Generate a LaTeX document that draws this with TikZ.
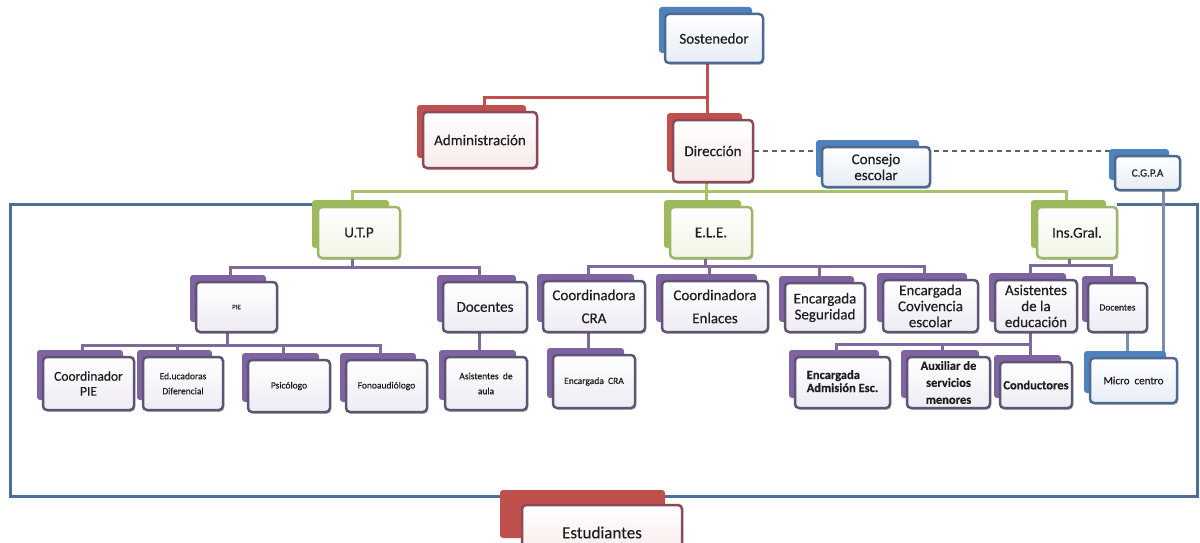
\documentclass[tikz,border=0pt]{standalone}
\usepackage{fontspec}
\setmainfont{Carlito}[FakeBold=0.3]
\usetikzlibrary{shadows,calc}
\pgfdeclarelayer{paper}
\pgfdeclarelayer{bg}
\pgfsetlayers{paper,bg,main}
\definecolor{txt}{HTML}{1E1E1E}
\definecolor{redK}{HTML}{C0504D}
\definecolor{blueK}{HTML}{4F81BD}
\definecolor{greenK}{HTML}{9BBB59}
\definecolor{purpleK}{HTML}{8064A2}
\definecolor{redB}{HTML}{8A4A58}
\definecolor{blueB}{HTML}{4E6A8E}
\definecolor{greenB}{HTML}{A0B56A}
\definecolor{purpleB}{HTML}{5E5473}
\definecolor{redF}{HTML}{F7EAEA}
\definecolor{blueF}{HTML}{E6EDF6}
\definecolor{greenF}{HTML}{F1F5E6}
\definecolor{purpleF}{HTML}{EEEBF3}
\definecolor{redL}{HTML}{C0504D}
\definecolor{greenL}{HTML}{A8C26A}
\definecolor{purpleL}{HTML}{7E6A9E}
\definecolor{blueL}{HTML}{7A8FAC}
\definecolor{frameC}{HTML}{4D6E98}
\definecolor{dashC}{HTML}{5A6270}
\definecolor{auxT}{HTML}{3A3326}
\newcommand\fA{\fontsize{15}{17}\selectfont}
\newcommand\fB{\fontsize{15}{16}\selectfont}
\newcommand\fW{\fontsize{15}{23}\selectfont}
\newcommand\fC{\fontsize{11}{13}\selectfont}
\newcommand\fS{\fontsize{9.5}{15}\selectfont}
\newcommand\fT{\fontsize{7}{9}\selectfont}
\newcommand\fM{\fontsize{13.5}{15}\selectfont}
\newcommand\fD{\fontsize{12.5}{15}\selectfont\bfseries}
\newcommand\fX{\fontsize{12.5}{17}\selectfont\bfseries\color{auxT}}
\newcommand\fE{\fontsize{17}{19}\selectfont}
\tikzset{
  front/.style={draw, rounded corners=4pt, line width=2.5pt, align=center,
    inner sep=1pt, text=txt,
    drop shadow={shadow xshift=1.2pt, shadow yshift=-1.8pt, opacity=0.25, fill=black}},
  front red/.style={front, draw=redB, top color=white, bottom color=redF},
  front blue/.style={front, draw=blueB, top color=white, bottom color=blueF},
  front green/.style={front, draw=greenB, top color=white, bottom color=greenF},
  front purple/.style={front, draw=purpleB, top color=white, bottom color=purpleF},
  back red/.style={fill=redK, rounded corners=3pt},
  back blue/.style={fill=blueK, rounded corners=3pt},
  back green/.style={fill=greenK, rounded corners=3pt},
  back purple/.style={fill=purpleK, rounded corners=3pt},
  link/.style={line width=3pt},
  redline/.style={link, draw=redL},
  greenline/.style={link, draw=greenL},
  purpleline/.style={link, draw=purpleL},
  blueline/.style={line width=2.2pt, draw=blueL},
  dashline/.style={line width=1.1pt, draw=dashC, dash pattern=on 5pt off 4pt},
  frameline/.style={line width=3pt, draw=frameC},
}
% name, left, top, right, bottom, family, font, text
\newcommand\card[8]{%
  \fill[back #6] ({#2-6},{#3-7}) rectangle ({#4-11},{#5-10});
  \node[front #6, minimum width={(#4-#2)*1pt}, minimum height={(#5-#3)*1pt}, font=#7]
    (#1) at ({(#2+#4)/2},{(#3+#5)/2}) {#8};
}
\begin{document}
\begin{tikzpicture}[x=1pt,y=-1pt]
\useasboundingbox (0,0) rectangle (1200,543);
\begin{pgfonlayer}{paper}
\fill[white] (0,0) rectangle (1200,543);
\end{pgfonlayer}

\card{sos}{665}{14}{763}{63}{blue}{\fA}{Sostenedor}
\card{adm}{423}{112}{537}{168}{red}{\fA}{Administración}
\card{dir}{673}{120}{753}{182}{red}{\fA}{Dirección}
\card{con}{822}{147}{930}{187}{blue}{\fB}{Consejo\\escolar}
\card{cgpa}{1115}{156}{1180}{190}{blue}{\fC}{C.G.P.A}

\card{utp}{318}{207}{400}{258}{green}{\fA}{U.T.P}
\card{ele}{670}{207}{752}{258}{green}{\fA}{E.L.E.}
\card{ins}{1037}{207}{1117}{258}{green}{\fA}{Ins.Gral.}

\card{pie}{196}{282}{277}{332}{purple}{\fT}{PIE}
\card{doc}{443}{282}{527}{332}{purple}{\fA}{Docentes}
\card{cra}{543}{281}{645}{332}{purple}{\fW}{Coordinadora\\CRA}
\card{enl}{662}{281}{768}{332}{purple}{\fW}{Coordinadora\\Enlaces}
\card{seg}{785}{283}{865}{332}{purple}{\fB}{Encargada\\Seguridad}
\card{cov}{883}{280}{978}{332}{purple}{\fB}{Encargada\\Covivencia\\escolar}
\card{asi}{995}{280}{1077}{332}{purple}{\fB}{Asistentes\\de la\\educación}
\card{doc2}{1088}{283}{1147}{332}{purple}{\fS}{Docentes}

\card{cpie}{43}{357}{134}{410}{purple}{\fM}{Coordinador\\PIE}
\card{edu}{143}{357}{223}{410}{purple}{\fS}{Ed.ucadoras\\Diferencial}
\card{psi}{248}{360}{330}{412}{purple}{\fS}{Psicólogo}
\card{fono}{346}{360}{427}{412}{purple}{\fS}{Fonoaudiólogo}
\card{asa}{445}{357}{527}{410}{purple}{\fS}{Asistentes\ \ de\\aula}
\card{ecra}{553}{355}{635}{408}{purple}{\fS}{Encargada\ \ CRA}
\card{adme}{795}{357}{890}{408}{purple}{\fD}{\begin{tabular}{@{}l@{}}Encargada\\[-2pt]Admisión Esc.\end{tabular}}
\card{aux}{907}{357}{990}{408}{purple}{\fX}{Auxiliar de\\servicios\\menores}
\card{cond}{1000}{362}{1072}{408}{purple}{\fD}{Conductores}
\card{mic}{1090}{358}{1177}{403}{blue}{\fontsize{11}{13}\selectfont}{Micro\ \ centro}

\fill[back red] (500,490) rectangle (665,538);
\node[front red, minimum width=160pt, minimum height=55pt, font=\fE] (est) at (602,532.5) {Estudiantes};

\begin{pgfonlayer}{bg}
  % frame
  \draw[frameline] (312,204) -- (10,204) -- (10,496) -- (1197,496) -- (1197,204) -- (1117,204);
  % red
  \draw[redline] ([xshift=-7pt]sos.south) -- ++(0,33) -| ([xshift=4pt]adm.north);
  \draw[redline] ([xshift=-7pt]sos.south) -- ([xshift=-7pt]sos.south |- dir.north);
  % dashed
  \draw[dashline] (dir.east) -- (dir.east -| cgpa.west);
  % green
  \draw[greenline] ([xshift=-7pt]dir.south) -- ++(0,8) coordinate (gj);
  \draw[greenline] ([xshift=-7pt]utp.north) |- (gj) -| ([xshift=-11pt]ins.north);
  \draw[greenline] (gj) -- (gj |- ele.north);
  % U.T.P
  \draw[purpleline] ([xshift=-7pt]utp.south) -- ++(0,8) coordinate (uj);
  \draw[purpleline] ([xshift=-6pt]pie.north) |- (uj) -| ([xshift=-6pt]doc.north);
  % PIE
  \draw[purpleline] ([xshift=-9pt]pie.south) -- ++(0,12) coordinate (pj);
  \draw[purpleline] ([xshift=-6pt]cpie.north) |- (pj) -| ([xshift=-6pt]fono.north);
  \draw[purpleline] ([xshift=-6pt]edu.north |- pj) -- ([xshift=-6pt]edu.north);
  \draw[purpleline] ([xshift=-6pt]psi.north |- pj) -- ([xshift=-6pt]psi.north);
  % Docentes
  \draw[purpleline] ([xshift=-6pt]doc.south) -- ([xshift=-6pt]doc.south |- asa.north);
  % E.L.E.
  \draw[purpleline] ([xshift=-6pt]ele.south) -- ++(0,7) coordinate (ej);
  \draw[purpleline] ([xshift=-6pt]cra.north) |- (ej) -| ([xshift=-6pt]cov.north);
  \draw[purpleline] ([xshift=-6pt]enl.north |- ej) -- ([xshift=-6pt]enl.north);
  \draw[purpleline] ([xshift=-6pt]seg.north |- ej) -- ([xshift=-6pt]seg.north);
  \draw[purpleline] ([xshift=-6pt]cra.south) -- ([xshift=-6pt]cra.south |- ecra.north);
  % Ins.Gral.
  \draw[purpleline] ([xshift=-8pt]ins.south) -- ++(0,6) coordinate (ij);
  \draw[purpleline] ([xshift=-6pt]asi.north) |- (ij) -| ([xshift=-6pt]doc2.north);
  % Asistentes
  \draw[purpleline] ([xshift=-6pt]asi.south) -- ++(0,11) coordinate (aj);
  \draw[purpleline] ([xshift=-6pt]adme.north) |- (aj) -- ([xshift=-6pt]cond.north);
  \draw[purpleline] ([xshift=-6pt]aux.north |- aj) -- ([xshift=-6pt]aux.north);
  % blue
  \draw[blueline] ([xshift=10pt]doc2.south) -- ([xshift=10pt]doc2.south |- mic.north);
  \draw[blueline] ([xshift=16pt]cgpa.south) -- ([xshift=16pt]cgpa.south |- mic.north);
\end{pgfonlayer}
\end{tikzpicture}
\end{document}
